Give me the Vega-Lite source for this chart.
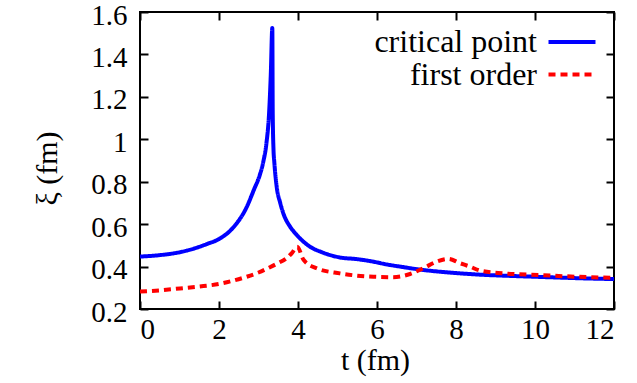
{
  "$schema": "https://vega.github.io/schema/vega-lite/v6.json",
  "width": 474,
  "height": 297,
  "autosize": "none",
  "padding": {"left": 140, "top": 12, "right": 23, "bottom": 74},
  "background": "white",
  "config": {
    "font": "Liberation Serif",
    "view": {"stroke": "black", "strokeWidth": 2},
    "axis": {"grid": false, "domain": false, "tickColor": "black", "tickWidth": 2, "labelColor": "black", "titleColor": "black", "labelFont": "Liberation Serif", "titleFont": "Liberation Serif", "titleFontWeight": "normal"}
  },
  "data": {
    "values": [
      {"series": "critical point", "t": 0, "xi": 0.447},
      {"series": "critical point", "t": 0.5, "xi": 0.454},
      {"series": "critical point", "t": 0.84, "xi": 0.462},
      {"series": "critical point", "t": 1.2, "xi": 0.476},
      {"series": "critical point", "t": 1.69, "xi": 0.506},
      {"series": "critical point", "t": 2.0, "xi": 0.53},
      {"series": "critical point", "t": 2.36, "xi": 0.584},
      {"series": "critical point", "t": 2.7, "xi": 0.68},
      {"series": "critical point", "t": 2.89, "xi": 0.765},
      {"series": "critical point", "t": 3.03, "xi": 0.83},
      {"series": "critical point", "t": 3.12, "xi": 0.893},
      {"series": "critical point", "t": 3.2, "xi": 0.98},
      {"series": "critical point", "t": 3.27, "xi": 1.13},
      {"series": "critical point", "t": 3.31, "xi": 1.3},
      {"series": "critical point", "t": 3.35, "xi": 1.525},
      {"series": "critical point", "t": 3.36, "xi": 1.13},
      {"series": "critical point", "t": 3.38, "xi": 0.95},
      {"series": "critical point", "t": 3.4, "xi": 0.893},
      {"series": "critical point", "t": 3.46, "xi": 0.777},
      {"series": "critical point", "t": 3.55, "xi": 0.7},
      {"series": "critical point", "t": 3.63, "xi": 0.65},
      {"series": "critical point", "t": 3.8, "xi": 0.588},
      {"series": "critical point", "t": 3.97, "xi": 0.549},
      {"series": "critical point", "t": 4.3, "xi": 0.494},
      {"series": "critical point", "t": 4.6, "xi": 0.468},
      {"series": "critical point", "t": 5.06, "xi": 0.443},
      {"series": "critical point", "t": 5.5, "xi": 0.435},
      {"series": "critical point", "t": 5.91, "xi": 0.423},
      {"series": "critical point", "t": 6.25, "xi": 0.41},
      {"series": "critical point", "t": 6.58, "xi": 0.4},
      {"series": "critical point", "t": 7.17, "xi": 0.384},
      {"series": "critical point", "t": 7.7, "xi": 0.374},
      {"series": "critical point", "t": 8.1, "xi": 0.368},
      {"series": "critical point", "t": 8.6, "xi": 0.362},
      {"series": "critical point", "t": 9.37, "xi": 0.356},
      {"series": "critical point", "t": 10.0, "xi": 0.352},
      {"series": "critical point", "t": 10.63, "xi": 0.348},
      {"series": "critical point", "t": 11.3, "xi": 0.344},
      {"series": "critical point", "t": 12, "xi": 0.341},
      {"series": "first order", "t": 0, "xi": 0.282},
      {"series": "first order", "t": 0.5, "xi": 0.288},
      {"series": "first order", "t": 1.01, "xi": 0.297},
      {"series": "first order", "t": 1.5, "xi": 0.306},
      {"series": "first order", "t": 2.0, "xi": 0.318},
      {"series": "first order", "t": 2.35, "xi": 0.333},
      {"series": "first order", "t": 2.7, "xi": 0.352},
      {"series": "first order", "t": 3.0, "xi": 0.372},
      {"series": "first order", "t": 3.29, "xi": 0.397},
      {"series": "first order", "t": 3.5, "xi": 0.417},
      {"series": "first order", "t": 3.71, "xi": 0.439},
      {"series": "first order", "t": 3.85, "xi": 0.465},
      {"series": "first order", "t": 3.98, "xi": 0.494},
      {"series": "first order", "t": 4.14, "xi": 0.432},
      {"series": "first order", "t": 4.47, "xi": 0.392},
      {"series": "first order", "t": 5.06, "xi": 0.368},
      {"series": "first order", "t": 5.91, "xi": 0.352},
      {"series": "first order", "t": 6.41, "xi": 0.35},
      {"series": "first order", "t": 6.84, "xi": 0.365},
      {"series": "first order", "t": 7.17, "xi": 0.392},
      {"series": "first order", "t": 7.51, "xi": 0.423},
      {"series": "first order", "t": 7.81, "xi": 0.436},
      {"series": "first order", "t": 8.1, "xi": 0.416},
      {"series": "first order", "t": 8.35, "xi": 0.4},
      {"series": "first order", "t": 8.61, "xi": 0.381},
      {"series": "first order", "t": 9.2, "xi": 0.368},
      {"series": "first order", "t": 10.13, "xi": 0.36},
      {"series": "first order", "t": 11.06, "xi": 0.352},
      {"series": "first order", "t": 12, "xi": 0.347}
    ]
  },
  "layer": [
    {
      "mark": {"type": "line", "strokeWidth": 4, "interpolate": "monotone", "clip": true},
      "encoding": {
        "x": {"field": "t", "type": "quantitative", "scale": {"domain": [0, 12], "nice": false},
          "axis": {"orient": "bottom", "values": [0, 2, 4, 6, 8, 10, 12], "tickSize": -8, "labelPadding": 14, "labelFontSize": 29, "labelBaseline": "top",
            "title": "t (fm)", "titleFontSize": 30, "titleX": 235, "titleY": 51, "titleBaseline": "middle", "titleAlign": "center"}},
        "y": {"field": "xi", "type": "quantitative", "scale": {"domain": [0.2, 1.6], "nice": false, "zero": false},
          "axis": {"orient": "left", "values": [0.2, 0.4, 0.6, 0.8, 1, 1.2, 1.4, 1.6], "format": "~g", "tickSize": -8, "labelPadding": 21, "labelFontSize": 29, "labelOffset": 3,
            "title": "ξ (fm)", "titleFontSize": 30, "titleX": -93, "titleY": 156, "titleBaseline": "middle", "titleAlign": "center", "titleAngle": -90}},
        "color": {"field": "series", "type": "nominal",
          "scale": {"domain": ["critical point", "first order"], "range": ["#0000ff", "#ff0000"]},
          "legend": {"orient": "none", "legendX": 416, "legendY": 14, "title": null, "padding": 0, "symbolType": "M-2,0H2", "symbolSize": 552, "symbolStrokeWidth": 4, "symbolFillColor": "transparent",
            "labelFont": "Liberation Serif", "labelFontSize": 32, "labelColor": "black", "labelAlign": "right", "labelBaseline": "middle", "labelOffset": -51, "labelLimit": 0, "rowPadding": 0.5}},
        "strokeDash": {"field": "series", "type": "nominal",
          "scale": {"domain": ["critical point", "first order"], "range": [[1, 0], [7, 5]]},
          "legend": {"orient": "none", "legendX": 416, "legendY": 14, "title": null, "padding": 0, "symbolType": "M-2,0H2", "symbolSize": 552, "symbolStrokeWidth": 4, "symbolFillColor": "transparent",
            "labelFont": "Liberation Serif", "labelFontSize": 32, "labelColor": "black", "labelAlign": "right", "labelBaseline": "middle", "labelOffset": -51, "labelLimit": 0, "rowPadding": 0.5}}
      }
    },
    {
      "mark": {"type": "line", "opacity": 0},
      "encoding": {
        "x": {"field": "t", "type": "quantitative", "axis": {"orient": "top", "values": [0, 2, 4, 6, 8, 10, 12], "tickSize": -8, "labels": false, "title": null}},
        "y": {"field": "xi", "type": "quantitative", "axis": {"orient": "right", "values": [0.2, 0.4, 0.6, 0.8, 1, 1.2, 1.4, 1.6], "tickSize": -8, "labels": false, "title": null}},
        "detail": {"field": "series", "type": "nominal"}
      }
    }
  ],
  "resolve": {"axis": {"x": "independent", "y": "independent"}}
}
